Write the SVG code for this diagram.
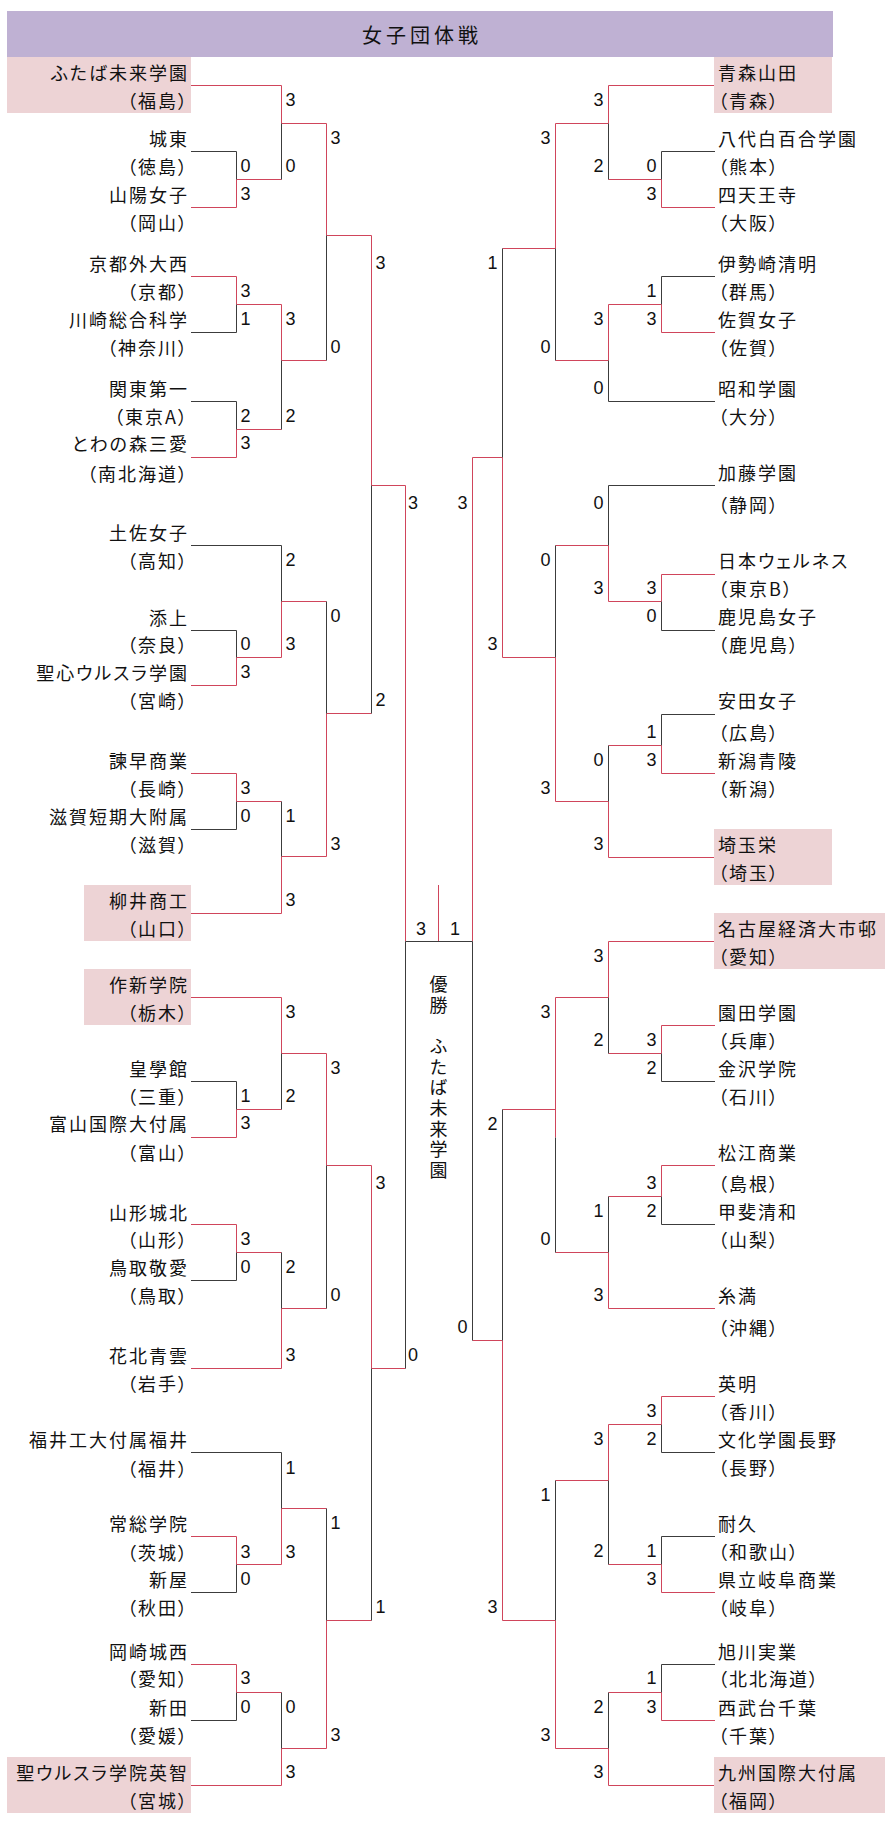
<svg xmlns="http://www.w3.org/2000/svg" width="885" height="1823" viewBox="0 0 885 1823">
<style>
.hdr{fill:#BFB1D3}
.hl{fill:#EDD3D5}
.nm{font-family:"Noto Sans CJK JP","Noto Sans",sans-serif;font-size:18px;letter-spacing:2px;font-feature-settings:"palt";dominant-baseline:central;fill:#111}
.L{text-anchor:end}
.ttl{font-family:"Noto Sans CJK JP",sans-serif;font-size:20px;letter-spacing:4px;text-anchor:middle;dominant-baseline:central;fill:#111}
.vt{font-family:"Noto Sans CJK JP",sans-serif;font-size:18px;writing-mode:vertical-rl;text-orientation:upright;letter-spacing:2.7px;fill:#111}
.sc{font-family:"Liberation Sans",Arial,sans-serif;font-size:18px;dominant-baseline:central;fill:#111}
.sr{text-anchor:end}
.sm{text-anchor:middle}
.w{fill:none;stroke:#D0455B;stroke-width:1}
.k{fill:none;stroke:#3C3C3C;stroke-width:1}
</style>
<rect width="885" height="1823" fill="#fff"/>
<g id="header">
<rect class="hdr" x="7" y="11" width="826" height="46"/>
<text class="ttl" x="422" y="34">女子団体戦</text>
</g>
<g id="connectors">
<path class="w" d="M191 85.5H281.5M191 207.5H236.5M191 276.5H236.5M191 457.5H236.5M191 685.5H236.5M191 773.5H236.5M191 913.5H281.5M191 997.5H281.5M191 1137.5H236.5M191 1224.5H236.5M191 1368.5H281.5M191 1536.5H236.5M191 1664.5H236.5M191 1785.5H281.5
M236.5 207.5V179.5H281.5M281.5 85.5V123.5H326.5M236.5 276.5V304.5H281.5M236.5 457.5V429.5H281.5M281.5 304.5V360.5H326.5M326.5 123.5V235.5H371.5M236.5 685.5V657.5H281.5M281.5 657.5V601.5H326.5M236.5 773.5V801.5H281.5M281.5 913.5V856.5H326.5M326.5 856.5V713.5H371.5M371.5 235.5V485.5H405.5M405.5 485.5V941.5
M236.5 1137.5V1109.5H281.5M281.5 997.5V1053.5H326.5M236.5 1224.5V1252.5H281.5M281.5 1368.5V1308.5H326.5M326.5 1053.5V1165.5H371.5M236.5 1536.5V1564.5H281.5M281.5 1564.5V1508.5H326.5M236.5 1664.5V1692.5H281.5M281.5 1785.5V1748.5H326.5M326.5 1748.5V1620.5H371.5M371.5 1165.5V1368.5H405.5
M715 85.5H608.5M715 207.5H661.5M715 332.5H661.5M715 574.5H661.5M715 773.5H661.5M715 857.5H608.5M715 941.5H608.5M715 1025.5H661.5M715 1165.5H661.5M715 1308.5H608.5M715 1396.5H661.5M715 1592.5H661.5M715 1720.5H661.5M715 1785.5H608.5
M661.5 207.5V179.5H608.5M608.5 85.5V123.5H555.5M661.5 332.5V304.5H608.5M608.5 304.5V360.5H555.5M555.5 123.5V248.5H502.5M661.5 574.5V601.5H608.5M608.5 601.5V545.5H555.5M661.5 773.5V745.5H608.5M608.5 857.5V801.5H555.5M555.5 801.5V657.5H502.5M502.5 657.5V457.5H472.5M472.5 457.5V941.5
M661.5 1025.5V1053.5H608.5M608.5 941.5V997.5H555.5M661.5 1165.5V1196.5H608.5M608.5 1308.5V1252.5H555.5M555.5 997.5V1137.5M555.5 1109.5H502.5M661.5 1396.5V1424.5H608.5M661.5 1592.5V1564.5H608.5M608.5 1424.5V1480.5H555.5M661.5 1720.5V1692.5H608.5M608.5 1785.5V1748.5H555.5M555.5 1748.5V1620.5H502.5M502.5 1620.5V1340.5H472.5
M438.5 885V941.5"/>
<path class="k" d="M191 151.5H236.5M191 332.5H236.5M191 401.5H236.5M191 545.5H281.5M191 630.5H236.5M191 829.5H236.5M191 1081.5H236.5M191 1280.5H236.5M191 1452.5H281.5M191 1592.5H236.5M191 1720.5H236.5
M236.5 151.5V179.5M281.5 123.5V179.5M236.5 304.5V332.5M236.5 401.5V429.5M281.5 360.5V429.5M326.5 235.5V360.5M236.5 630.5V657.5M281.5 545.5V601.5M236.5 801.5V829.5M281.5 801.5V856.5M326.5 601.5V713.5M371.5 485.5V713.5M405.5 941.5V1368.5
M236.5 1081.5V1109.5M281.5 1053.5V1109.5M236.5 1252.5V1280.5M281.5 1252.5V1308.5M326.5 1165.5V1308.5M236.5 1564.5V1592.5M281.5 1452.5V1508.5M236.5 1692.5V1720.5M281.5 1692.5V1748.5M326.5 1508.5V1620.5M371.5 1368.5V1620.5
M715 151.5H661.5M715 276.5H661.5M715 401.5H608.5M715 485.5H608.5M715 630.5H661.5M715 714.5H661.5M715 1081.5H661.5M715 1224.5H661.5M715 1452.5H661.5M715 1536.5H661.5M715 1664.5H661.5
M661.5 151.5V179.5M608.5 123.5V179.5M661.5 276.5V304.5M608.5 360.5V401.5M555.5 248.5V360.5M661.5 601.5V630.5M608.5 485.5V545.5M661.5 714.5V745.5M608.5 745.5V801.5M555.5 545.5V657.5M502.5 248.5V457.5M472.5 941.5V1340.5
M661.5 1053.5V1081.5M608.5 997.5V1053.5M661.5 1196.5V1224.5M608.5 1196.5V1252.5M555.5 1137.5V1252.5M661.5 1424.5V1452.5M661.5 1536.5V1564.5M608.5 1480.5V1564.5M661.5 1664.5V1692.5M608.5 1692.5V1748.5M555.5 1480.5V1620.5M502.5 1109.5V1340.5
M405.5 941.5H472.5"/>
<g id="scores-left" class="sc">
<text x="285.4" y="100">3</text>
<text x="330.4" y="137.7">3</text>
<text x="240.4" y="165.7">0</text>
<text x="285.4" y="165.7">0</text>
<text x="240.4" y="194.3">3</text>
<text x="375.4" y="263.3">3</text>
<text x="240.4" y="291">3</text>
<text x="240.4" y="319">1</text>
<text x="285.4" y="319">3</text>
<text x="330.4" y="346.7">0</text>
<text x="240.4" y="415.7">2</text>
<text x="285.4" y="415.7">2</text>
<text x="240.4" y="443.3">3</text>
<text x="408" y="503.3">3</text>
<text x="285.4" y="560">2</text>
<text x="330.4" y="615.7">0</text>
<text x="240.4" y="644">0</text>
<text x="285.4" y="644">3</text>
<text x="240.4" y="672.3">3</text>
<text x="375.4" y="700">2</text>
<text x="240.4" y="787.7">3</text>
<text x="240.4" y="816">0</text>
<text x="285.4" y="816">1</text>
<text x="330.4" y="844.3">3</text>
<text x="285.4" y="900">3</text>
<text x="285.4" y="1011.7">3</text>
<text x="330.4" y="1067.7">3</text>
<text x="240.4" y="1095.7">1</text>
<text x="285.4" y="1095.7">2</text>
<text x="240.4" y="1123.3">3</text>
<text x="375.4" y="1182.7">3</text>
<text x="240.4" y="1239">3</text>
<text x="240.4" y="1266.7">0</text>
<text x="285.4" y="1266.7">2</text>
<text x="330.4" y="1295">0</text>
<text x="285.4" y="1355">3</text>
<text x="408" y="1355">0</text>
<text x="285.4" y="1467.7">1</text>
<text x="330.4" y="1523.3">1</text>
<text x="240.4" y="1551.7">3</text>
<text x="285.4" y="1551.7">3</text>
<text x="240.4" y="1579.3">0</text>
<text x="375.4" y="1607.3">1</text>
<text x="240.4" y="1678.3">3</text>
<text x="240.4" y="1706.7">0</text>
<text x="285.4" y="1706.7">0</text>
<text x="330.4" y="1735">3</text>
<text x="285.4" y="1771.7">3</text>
</g>
<g id="scores-right" class="sc sr">
<text x="603.5" y="100">3</text>
<text x="550.5" y="137.7">3</text>
<text x="656.5" y="165.7">0</text>
<text x="603.5" y="165.7">2</text>
<text x="656.5" y="194.3">3</text>
<text x="497.5" y="263.3">1</text>
<text x="656.5" y="291">1</text>
<text x="656.5" y="319">3</text>
<text x="603.5" y="319">3</text>
<text x="550.5" y="346.7">0</text>
<text x="603.5" y="388.3">0</text>
<text x="467.5" y="503.3">3</text>
<text x="603.5" y="503.3">0</text>
<text x="550.5" y="560">0</text>
<text x="656.5" y="587.7">3</text>
<text x="603.5" y="587.7">3</text>
<text x="656.5" y="615.7">0</text>
<text x="497.5" y="644.3">3</text>
<text x="656.5" y="731.7">1</text>
<text x="656.5" y="760">3</text>
<text x="603.5" y="760">0</text>
<text x="550.5" y="788.3">3</text>
<text x="603.5" y="844.3">3</text>
<text x="603.5" y="956">3</text>
<text x="550.5" y="1011.7">3</text>
<text x="656.5" y="1040">3</text>
<text x="603.5" y="1040">2</text>
<text x="656.5" y="1067.7">2</text>
<text x="497.5" y="1124.3">2</text>
<text x="656.5" y="1182.7">3</text>
<text x="656.5" y="1211">2</text>
<text x="603.5" y="1211">1</text>
<text x="550.5" y="1239">0</text>
<text x="603.5" y="1295">3</text>
<text x="467.5" y="1326.7">0</text>
<text x="656.5" y="1411">3</text>
<text x="656.5" y="1439.3">2</text>
<text x="603.5" y="1439.3">3</text>
<text x="550.5" y="1495">1</text>
<text x="656.5" y="1551">1</text>
<text x="603.5" y="1551">2</text>
<text x="656.5" y="1579.3">3</text>
<text x="497.5" y="1607.3">3</text>
<text x="656.5" y="1678.3">1</text>
<text x="656.5" y="1707.3">3</text>
<text x="603.5" y="1707.3">2</text>
<text x="550.5" y="1735">3</text>
<text x="603.5" y="1771.7">3</text>
</g>
<g id="scores-final" class="sc sm">
<text x="421" y="929">3</text>
<text x="455" y="929">1</text>
</g>
</g>
<g id="champion">
<text class="vt" x="438.5" y="975">優勝　ふたば未来学園</text>
</g>
<g id="teams-left" class="nm L">
<g id="L01"><rect class="hl" x="7" y="57" width="184" height="56"/><text x="189" y="71.7">ふたば未来学園</text><text x="189" y="100">（福島）</text></g>
<g id="L02"><text x="189" y="137.7">城東</text><text x="189" y="165.7">（徳島）</text></g>
<g id="L03"><text x="189" y="194.3">山陽女子</text><text x="189" y="222.3">（岡山）</text></g>
<g id="L04"><text x="189" y="263.3">京都外大西</text><text x="189" y="291">（京都）</text></g>
<g id="L05"><text x="189" y="319">川崎総合科学</text><text x="189" y="346.7">（神奈川）</text></g>
<g id="L06"><text x="189" y="388.3">関東第一</text><text x="189" y="415.7">（東京A）</text></g>
<g id="L07"><text x="189" y="443.3">とわの森三愛</text><text x="189" y="472.7">（南北海道）</text></g>
<g id="L08"><text x="189" y="531.7">土佐女子</text><text x="189" y="560">（高知）</text></g>
<g id="L09"><text x="189" y="616.7">添上</text><text x="189" y="644">（奈良）</text></g>
<g id="L10"><text x="189" y="672.3">聖心ウルスラ学園</text><text x="189" y="700">（宮崎）</text></g>
<g id="L11"><text x="189" y="760">諫早商業</text><text x="189" y="787.7">（長崎）</text></g>
<g id="L12"><text x="189" y="816">滋賀短期大附属</text><text x="189" y="844.3">（滋賀）</text></g>
<g id="L13"><rect class="hl" x="84" y="885" width="107" height="56"/><text x="189" y="900">柳井商工</text><text x="189" y="928.3">（山口）</text></g>
<g id="L14"><rect class="hl" x="84" y="969" width="107" height="56"/><text x="189" y="984">作新学院</text><text x="189" y="1011.7">（栃木）</text></g>
<g id="L15"><text x="189" y="1067.7">皇學館</text><text x="189" y="1095.7">（三重）</text></g>
<g id="L16"><text x="189" y="1123.3">富山国際大付属</text><text x="189" y="1151.7">（富山）</text></g>
<g id="L17"><text x="189" y="1211.7">山形城北</text><text x="189" y="1239">（山形）</text></g>
<g id="L18"><text x="189" y="1266.7">鳥取敬愛</text><text x="189" y="1295">（鳥取）</text></g>
<g id="L19"><text x="189" y="1355">花北青雲</text><text x="189" y="1383.3">（岩手）</text></g>
<g id="L20"><text x="189" y="1439.3">福井工大付属福井</text><text x="189" y="1467.7">（福井）</text></g>
<g id="L21"><text x="189" y="1523.3">常総学院</text><text x="189" y="1551.7">（茨城）</text></g>
<g id="L22"><text x="189" y="1579.3">新屋</text><text x="189" y="1607.3">（秋田）</text></g>
<g id="L23"><text x="189" y="1651">岡崎城西</text><text x="189" y="1678.3">（愛知）</text></g>
<g id="L24"><text x="189" y="1706.7">新田</text><text x="189" y="1735">（愛媛）</text></g>
<g id="L25"><rect class="hl" x="7" y="1757" width="184" height="56"/><text x="189" y="1771.7">聖ウルスラ学院英智</text><text x="189" y="1800">（宮城）</text></g>
</g>
<g id="teams-right" class="nm">
<g id="R01"><rect class="hl" x="714" y="57" width="118" height="56"/><text x="718" y="71.7">青森山田</text><text x="718" y="100">（青森）</text></g>
<g id="R02"><text x="718" y="137.7">八代白百合学園</text><text x="718" y="165.7">（熊本）</text></g>
<g id="R03"><text x="718" y="194.3">四天王寺</text><text x="718" y="222.3">（大阪）</text></g>
<g id="R04"><text x="718" y="263.3">伊勢崎清明</text><text x="718" y="291">（群馬）</text></g>
<g id="R05"><text x="718" y="319">佐賀女子</text><text x="718" y="346.7">（佐賀）</text></g>
<g id="R06"><text x="718" y="388.3">昭和学園</text><text x="718" y="415.7">（大分）</text></g>
<g id="R07"><text x="718" y="471.7">加藤学園</text><text x="718" y="504">（静岡）</text></g>
<g id="R08"><text x="718" y="560">日本ウェルネス</text><text x="718" y="587.7">（東京B）</text></g>
<g id="R09"><text x="718" y="615.7">鹿児島女子</text><text x="718" y="644">（鹿児島）</text></g>
<g id="R10"><text x="718" y="700">安田女子</text><text x="718" y="731.7">（広島）</text></g>
<g id="R11"><text x="718" y="760">新潟青陵</text><text x="718" y="787.7">（新潟）</text></g>
<g id="R12"><rect class="hl" x="714" y="829" width="118" height="56"/><text x="718" y="844.3">埼玉栄</text><text x="718" y="871.7">（埼玉）</text></g>
<g id="R13"><rect class="hl" x="714" y="913" width="171" height="56"/><text x="718" y="928.3">名古屋経済大市邨</text><text x="718" y="956">（愛知）</text></g>
<g id="R14"><text x="718" y="1011.7">園田学園</text><text x="718" y="1040">（兵庫）</text></g>
<g id="R15"><text x="718" y="1067.7">金沢学院</text><text x="718" y="1095.7">（石川）</text></g>
<g id="R16"><text x="718" y="1152.3">松江商業</text><text x="718" y="1182.7">（島根）</text></g>
<g id="R17"><text x="718" y="1211">甲斐清和</text><text x="718" y="1239">（山梨）</text></g>
<g id="R18"><text x="718" y="1295">糸満</text><text x="718" y="1326.7">（沖縄）</text></g>
<g id="R19"><text x="718" y="1383.3">英明</text><text x="718" y="1411">（香川）</text></g>
<g id="R20"><text x="718" y="1439.3">文化学園長野</text><text x="718" y="1466.7">（長野）</text></g>
<g id="R21"><text x="718" y="1523.3">耐久</text><text x="718" y="1551">（和歌山）</text></g>
<g id="R22"><text x="718" y="1579.3">県立岐阜商業</text><text x="718" y="1607.3">（岐阜）</text></g>
<g id="R23"><text x="718" y="1651">旭川実業</text><text x="718" y="1678.3">（北北海道）</text></g>
<g id="R24"><text x="718" y="1706.7">西武台千葉</text><text x="718" y="1735">（千葉）</text></g>
<g id="R25"><rect class="hl" x="714" y="1757" width="171" height="56"/><text x="718" y="1771.7">九州国際大付属</text><text x="718" y="1800">（福岡）</text></g>
</g>
</svg>
